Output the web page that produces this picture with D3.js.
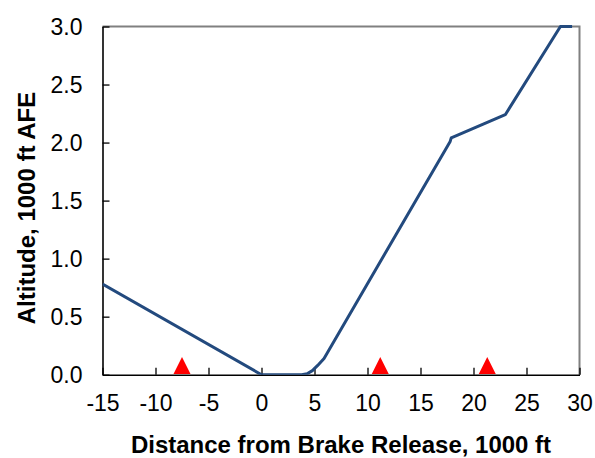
<!DOCTYPE html>
<html>
<head>
<meta charset="utf-8">
<script src="https://cdn.jsdelivr.net/npm/d3@7"></script>
<style>
  html, body { margin: 0; padding: 0; background: #fff; }
  svg { display: block; font-family: "Liberation Sans", Arial, sans-serif; }
</style>
</head>
<body>
<svg id="chart" width="595" height="458"></svg>
<script>
// ---- data ----
const distance = [-15, 0, 3.8, 4.3, 4.8, 5.3, 5.9, 17.8, 17.9, 23.0, 28.2, 29.3];
const altitude = [0.78, 0, 0, 0.008, 0.035, 0.08, 0.14, 2.01, 2.04, 2.24, 3.0, 3.0];
const markerX = [-7.5, 11.2, 21.3];
const markerY = [0.08, 0.08, 0.08];
const xTicks = [-15, -10, -5, 0, 5, 10, 15, 20, 25, 30];
const yTicks = [0, 0.5, 1.0, 1.5, 2.0, 2.5, 3.0];
const xTitle = "Distance from Brake Release, 1000 ft";
const yTitle = "Altitude, 1000 ft AFE";

// ---- layout ----
const svg = d3.select("#chart");
const L = 102.5, R = 579.5, T = 26.5, B = 374.7;
const x = d3.scaleLinear().domain([-15, 30]).range([L, R]);
const y = d3.scaleLinear().domain([0, 3]).range([B, T]);

// frame: top/right gray
svg.append("path")
  .attr("d", `M${L},${T}H${R}V${B}`)
  .attr("fill", "none").attr("stroke", "#808080").attr("stroke-width", 2);

// clip
svg.append("clipPath").attr("id", "clip")
  .append("rect").attr("x", L).attr("y", T - 2).attr("width", R - L).attr("height", B - T + 2);

// axes
const xAxis = d3.axisBottom(x).tickValues(xTicks).tickSizeInner(-7).tickSizeOuter(0)
  .tickPadding(20).tickFormat(d => String(d));
const yAxis = d3.axisLeft(y).tickValues(yTicks).tickSizeInner(-7).tickSizeOuter(0)
  .tickPadding(20).tickFormat(d => d.toFixed(1));

const gx = svg.append("g").attr("transform", `translate(0,${B})`).call(xAxis);
const gy = svg.append("g").attr("transform", `translate(${L},0)`).call(yAxis);
[gx, gy].forEach(g => {
  g.attr("font-size", null).attr("font-family", null);
  g.select(".domain").attr("stroke", "#000").attr("stroke-width", 1.6);
  g.selectAll(".tick line").attr("stroke", "#000").attr("stroke-width", 1.3);
  g.selectAll(".tick text").attr("fill", "#000")
    .style("font-size", "23px").style("font-family", "'Liberation Sans', Arial, sans-serif");
});
gx.selectAll(".tick text").attr("dy", "0.71em");
gy.selectAll(".tick text").attr("dy", "0.35em");

// line
const line = d3.line().x((d, i) => x(distance[i])).y((d, i) => y(altitude[i]));
svg.append("path")
  .datum(altitude)
  .attr("clip-path", "url(#clip)")
  .attr("d", line)
  .attr("fill", "none")
  .attr("stroke", "#234a7e")
  .attr("stroke-width", 3)
  .attr("stroke-linejoin", "round");

// triangle markers
const hw = 8.5, hh = 8.5;
svg.append("g").selectAll("path")
  .data(markerX)
  .join("path")
  .attr("d", (d, i) => {
    const cx = x(d), cy = y(markerY[i]);
    return `M${cx},${cy - hh}L${cx + hw},${cy + hh}L${cx - hw},${cy + hh}Z`;
  })
  .attr("fill", "#ff0000");

// titles
svg.append("text")
  .attr("x", (L + R) / 2).attr("y", 453)
  .attr("text-anchor", "middle")
  .style("font-size", "24px").style("font-weight", "bold")
  .text(xTitle);

svg.append("text")
  .attr("transform", `translate(35,208) rotate(-90)`)
  .attr("text-anchor", "middle")
  .style("font-size", "24px").style("font-weight", "bold")
  .text(yTitle);
</script>
</body>
</html>
